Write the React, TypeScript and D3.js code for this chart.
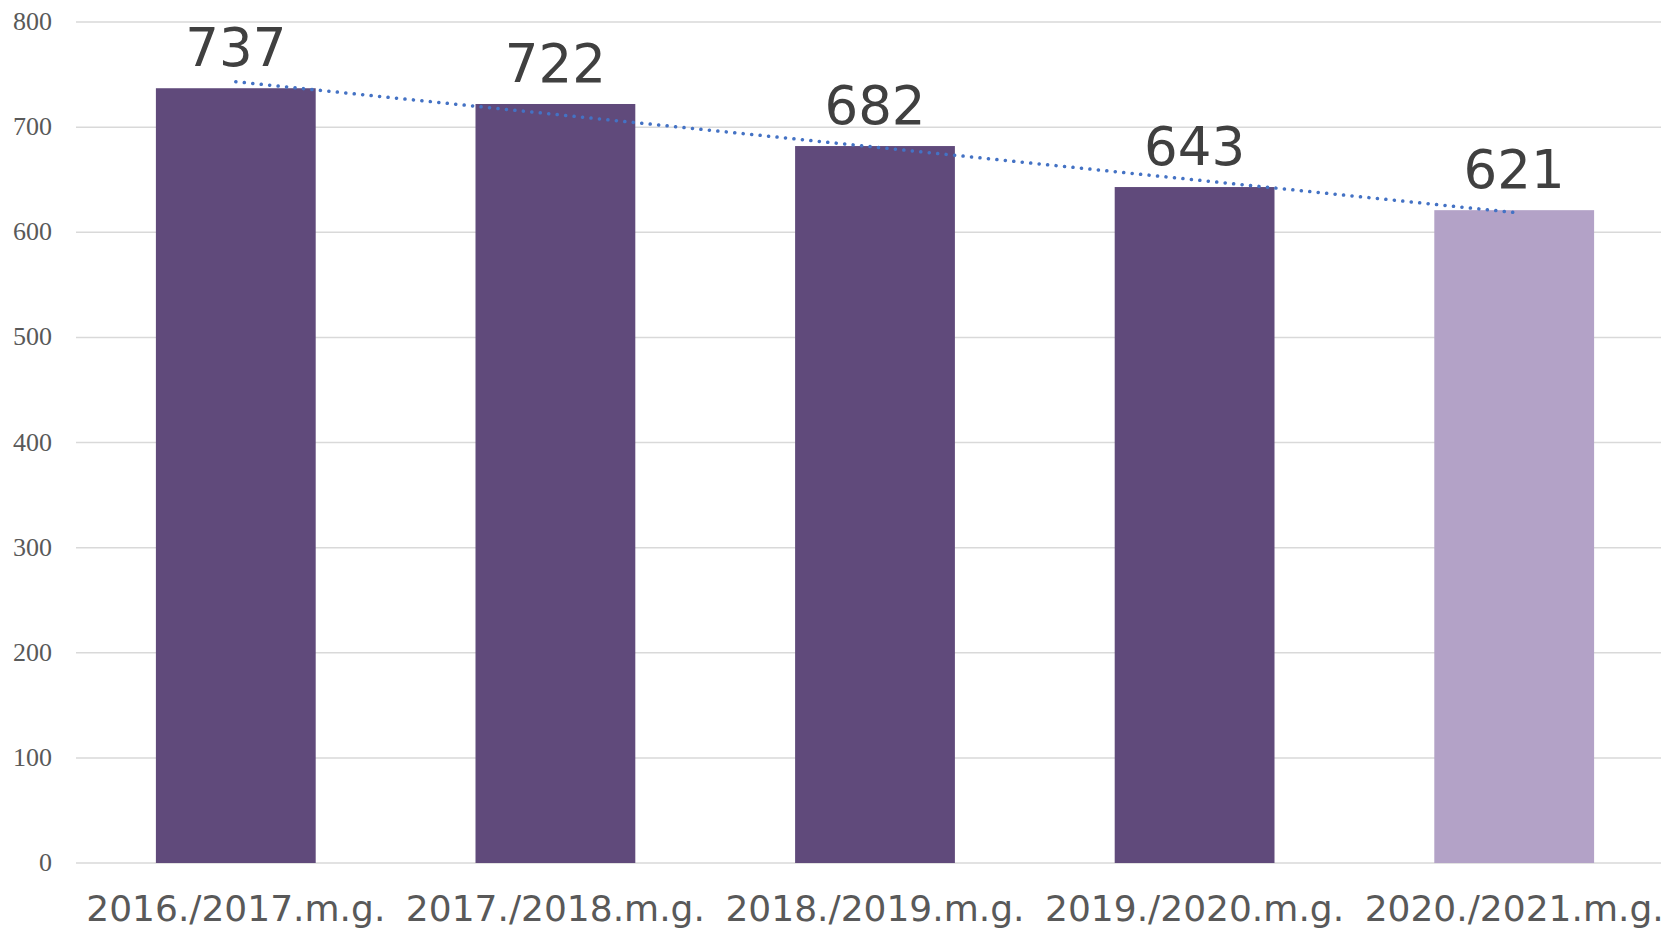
import React, { useEffect, useRef } from 'react';
import * as d3 from 'd3';

const categories = ['2016./2017.m.g.', '2017./2018.m.g.', '2018./2019.m.g.', '2019./2020.m.g.', '2020./2021.m.g.'];
const values = [737, 722, 682, 643, 621];
const barColors = ['#604A7B', '#604A7B', '#604A7B', '#604A7B', '#B3A2C7'];
const yTicks = [0, 100, 200, 300, 400, 500, 600, 700, 800];

export default function App() {
  const svgRef = useRef<SVGSVGElement>(null);
  const width = 1661;
  const height = 928;

  useEffect(() => {
    if (!svgRef.current) return;
    const svg = d3.select(svgRef.current);
    svg.selectAll('*').remove();

    // 플롯 영역 (오른쪽은 화면 밖까지 이어짐)
    const left = 76;
    const right = 1674;
    const top = 22;
    const bottom = 863;

    const x = d3.scaleBand<string>().domain(categories).range([left, right]).paddingInner(0.5).paddingOuter(0.25);
    const y = d3.scaleLinear().domain([0, 800]).range([bottom, top]);

    // 격자선
    svg.append('g')
      .selectAll('line')
      .data(yTicks)
      .join('line')
      .attr('x1', left)
      .attr('x2', width)
      .attr('y1', d => y(d))
      .attr('y2', d => y(d))
      .attr('stroke', '#D9D9D9')
      .attr('stroke-width', 1.5);

    // y축 레이블
    svg.append('g')
      .selectAll('text')
      .data(yTicks)
      .join('text')
      .attr('x', 52)
      .attr('y', d => y(d) + 8)
      .attr('text-anchor', 'end')
      .attr('font-family', '"Liberation Serif", "Times New Roman", serif')
      .attr('font-size', 26)
      .attr('fill', '#595959')
      .text(d => d);

    // 막대
    const data = categories.map((c, i) => ({ c, v: values[i], color: barColors[i] }));
    svg.append('g')
      .selectAll('rect')
      .data(data)
      .join('rect')
      .attr('x', d => x(d.c)!)
      .attr('y', d => y(d.v))
      .attr('width', x.bandwidth())
      .attr('height', d => bottom - y(d.v))
      .attr('fill', d => d.color);

    // 값 레이블
    svg.append('g')
      .selectAll('text')
      .data(data)
      .join('text')
      .attr('x', d => x(d.c)! + x.bandwidth() / 2)
      .attr('y', d => y(d.v) - 22)
      .attr('text-anchor', 'middle')
      .attr('font-family', '"DejaVu Sans", Verdana, sans-serif')
      .attr('font-size', 53)
      .attr('fill', '#404040')
      .text(d => d.v);

    // 추세선 (선형 회귀)
    const n = values.length;
    const mx = d3.mean(values.map((_, i) => i))!;
    const my = d3.mean(values)!;
    const slope = d3.sum(values.map((v, i) => (i - mx) * (v - my))) / d3.sum(values.map((_, i) => (i - mx) ** 2));
    const icpt = my - slope * mx;
    const trend = categories.map((c, i) => ({ c, v: icpt + slope * i }));
    const line = d3.line<{ c: string; v: number }>()
      .x(d => x(d.c)! + x.bandwidth() / 2)
      .y(d => y(d.v));
    svg.append('path')
      .datum([trend[0], trend[n - 1]])
      .attr('d', line)
      .attr('fill', 'none')
      .attr('stroke', '#4472C4')
      .attr('stroke-width', 3.5)
      .attr('stroke-linecap', 'round')
      .attr('stroke-dasharray', '0.1 8.4');

    // x축 레이블
    svg.append('g')
      .selectAll('text')
      .data(categories)
      .join('text')
      .attr('x', d => x(d)! + x.bandwidth() / 2)
      .attr('y', 921)
      .attr('text-anchor', 'middle')
      .attr('font-family', '"DejaVu Sans", Verdana, sans-serif')
      .attr('font-size', 36)
      .attr('fill', '#595959')
      .text(d => d);
  }, []);

  return (
    <svg
      ref={svgRef}
      width={width}
      height={height}
      viewBox={`0 0 ${width} ${height}`}
      style={{ position: 'absolute', left: 0, top: 0, display: 'block', background: '#fff' }}
    />
  );
}
